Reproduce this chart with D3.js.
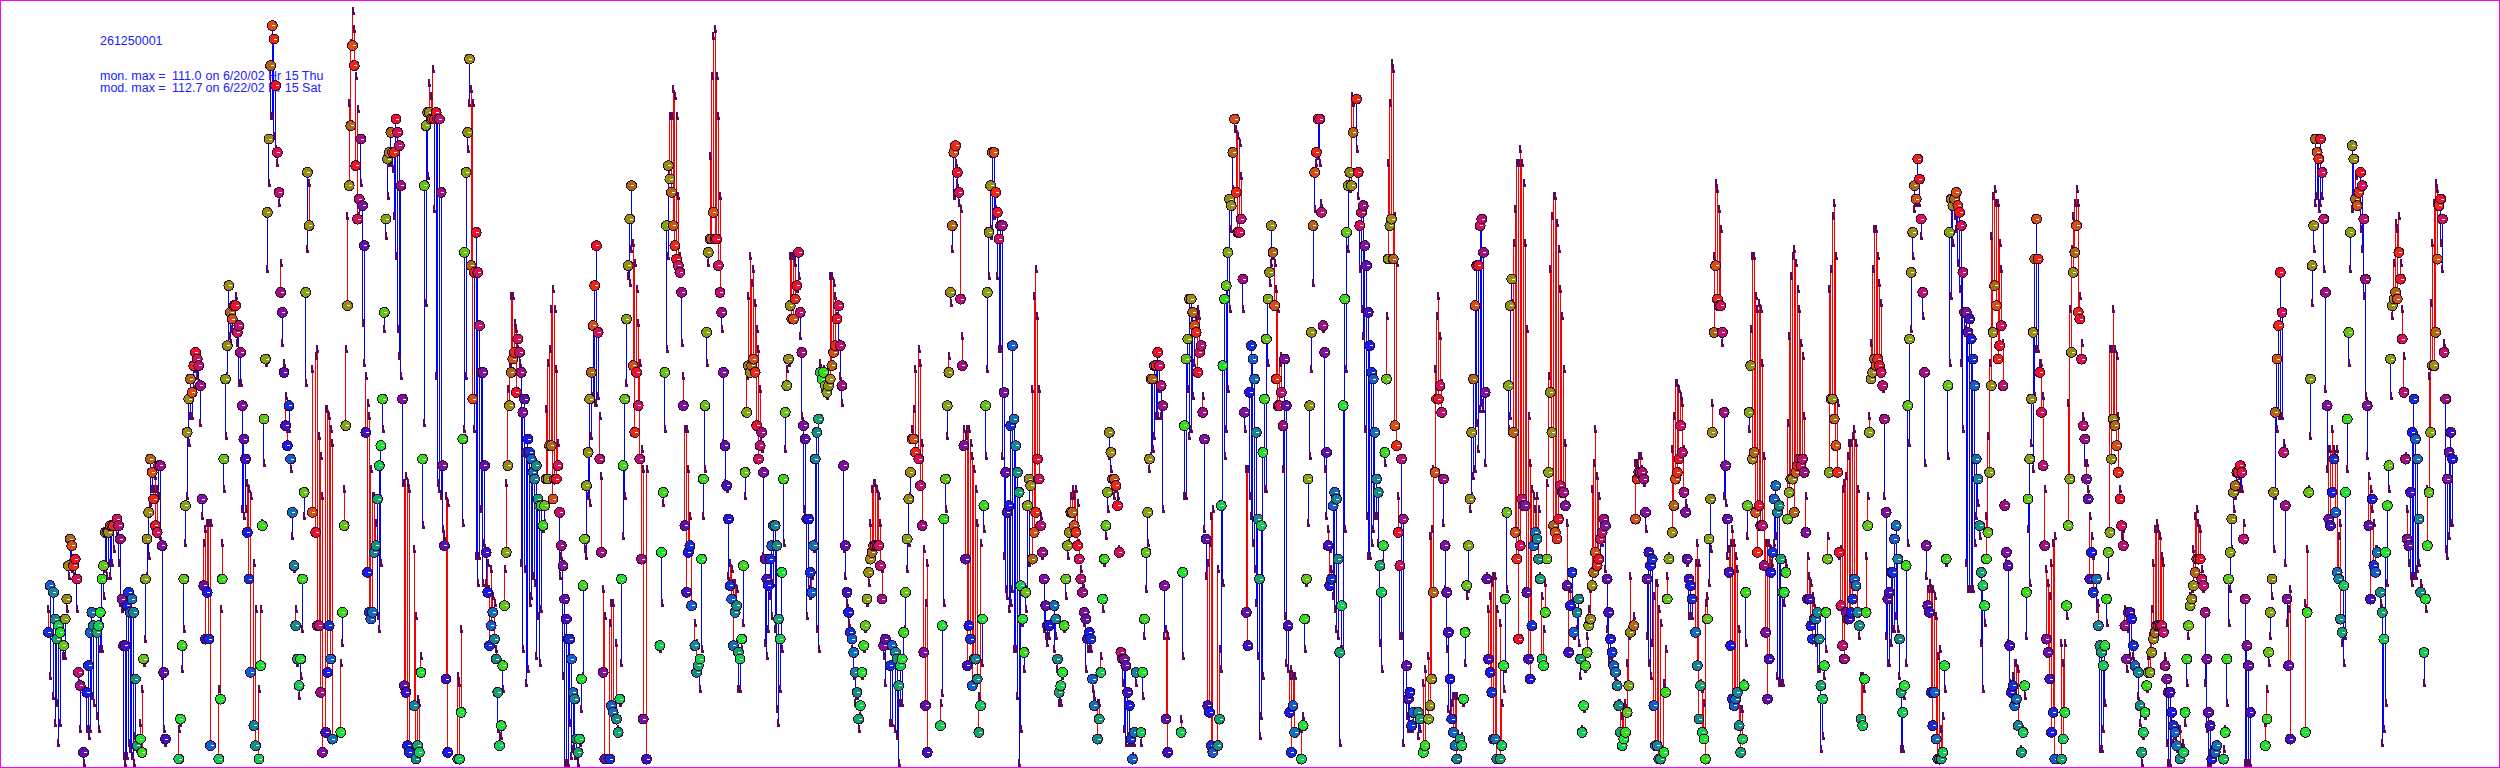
<!DOCTYPE html>
<html><head><meta charset="utf-8">
<style>html,body{margin:0;padding:0;background:#fff;overflow:hidden}svg{display:block}</style>
<script src="https://cdn.jsdelivr.net/npm/d3@7"></script>
</head><body><div id="chart"></div>
<script>
// each reading: [hour index, monitored ppb, modeled ppb]
const stretchA=[[25,20,23],[26,27,13],[28,26,10],[29,22,6],[30,19,9],[31,21,3],[32,20,6],[34,18,16],[35,22,16],[36,25,23],[37,30,28],[38,34,30],[39,33,29],[40,30,28],[41,31,28],[42,28,23],[43,14,12],[44,12,5],[46,2,0],[48,11,5],[49,15,4],[50,20,5],[51,23,10],[52,21,9],[54,20,7],[55,21,5],[56,23,17],[57,28,17],[58,30,25],[59,35,29],[60,35,28],[61,35,30],[62,36,28],[63,36,30],[64,36,32],[66,37,34],[67,36,30],[68,34,24],[69,25,23],[70,18,1],[71,18,0],[72,24,1],[73,26,3],[74,23,2],[75,25,1],[76,23,0],[77,13,4],[78,3,2],[80,4,6],[81,2,11],[82,16,15],[83,28,18.5],[84,34,28],[85,38,31],[86,46,39],[87,44,41],[88,40,41],[89,36,43],[90,35,41],[91,45,40],[92,45,34],[93,33,13],[94,14,5],[95,4,3],[103,1,5],[104,7,6],[105,18,14],[106,28,20],[107,39,33],[108,50,40],[109,55,48],[110,58,52],[111,56,52],[112,60,56],[113,62,59],[114,61,58],[115,60,57],[116,57,51],[117,40,37],[118,27,33],[119,19,35],[120,26,36],[121,19,36],[122,3,36],[127,1,11],[128,10,23],[129,28,33],[130,46,41],[131,58,49],[132,63,58],[133,72,64],[134,68,63],[135,67,65],[136,69,68],[137,69,70],[138,65,63],[139,66,57],[140,62,57],[141,54,38],[142,49,37],[143,46,38],[144,35,42],[145,28,41],[146,14,40],[148,6,30],[149,3,23],[151,1,11],[152,15,23],[153,36,36],[154,52,45],[155,61,60],[156,83,74],[157,94,87],[158,105,97],[159,111,97],[160,109,94],[161,102,92],[162,92,90],[163,86,84],[164,71,75],[165,68,63],[166,59,60],[167,51,55],[168,48,50],[169,54,50],[170,46,44],[171,38,34],[172,30,29],[173,21,23],[174,16,15],[175,12,10],[176,16,13],[177,28,20],[178,41,37],[179,71,57],[180,89,77],[181,81,87]];
const stretchB=[[183,38,59],[185,35,61],[186,21,62],[187,21,49],[188,11,46],[189,2,40],[191,5,53],[192,14,53],[193,21,52],[194,16,50],[195,4,48],[200,5,15],[201,23,18],[202,36,41],[203,51,62],[204,69,82],[205,87,99],[206,96,108],[207,108,112.7],[208,105,110],[209,90,103],[210,82,98],[211,85,82],[212,94,87],[213,84,66],[214,78,60],[215,50,58],[216,29,54],[217,23,52],[218,22,44],[219,23,40],[220,32,40],[221,33,36],[222,40,22],[223,45,20],[224,48,30],[225,55,50],[226,68,65],[227,82,79],[228,91,85],[229,92,90],[230,95,90],[231,92,89],[232,92,82],[233,97,76],[234,95,65],[235,93,61],[236,87,58],[237,55,42],[238,12,42],[239,11,43],[240,3,42],[241,2,41],[244,9,32],[245,1,22],[246,3,9.5],[247,2,9],[248,14,16],[249,46,35.6],[250,87,51],[251,96,69],[252,98,88],[253,98,102],[254,97,100],[255,97,104],[256,97,83],[257,98,58],[258,97,42],[259,97,41],[260,86,40],[261,45,35],[262,33,34],[263,13,40],[264,2,39],[270,1,13],[271,1,12],[272,8,20],[273,49,36],[274,77,50],[275,89,58],[276,95,92],[277,106,99],[278,75,101],[279,55,99],[280,74,50],[281,80,31],[282,74,27],[283,66,31],[284,59,38],[285,59,27],[286,45,33],[287,32,27],[288,26,30],[289,18,26],[290,21,29],[291,23,25],[292,19,24],[293,16,17],[294,11,5],[295,3,4],[296,6,4],[297,15,11],[298,24,29],[299,32,42],[300,45,56],[301,54,60],[302,59,70],[303,61,70],[304,62,66],[305,56,65],[306,64,62],[307,62,60],[308,59,30],[309,53,17],[310,55,29],[311,47,12],[312,49,14],[313,47,24],[314,46,25],[315,44,28],[316,43,27],[317,45,16],[318,40,22],[319,39,15],[320,39,23],[321,36,35],[322,39,36],[323,43,53],[324,43,60],[325,48,62],[326,48,68],[327,40,71],[328,43,68],[329,43,59],[330,45,48],[331,38,28],[332,33,31],[333,30,13],[334,25,0],[335,22,0],[336,19,0],[337,19,6],[338,16,1],[339,11,2],[340,10,1],[341,4,1],[342,2,0],[343,4,3],[344,13,8],[345,27,13],[346,34,32]];
const stretchC=[[347,42,31],[348,47,40],[349,55,39],[350,59,49],[351,66,55],[352,72,54],[353,78,54],[354,65,55],[355,46,52],[356,32,43],[357,14,26],[358,1,22],[361,1,21],[362,9,24],[363,8,24],[365,7,18],[366,5,5],[367,10,9],[368,28,15],[369,45,34],[370,55,40],[371,67,57],[372,75,73],[373,82,72],[374,87,77],[375,60,78],[376,50,75],[377,59,71],[378,54,66],[379,46,60],[380,31,47],[381,7,44],[383,1,44],[391,18,17],[392,32,24],[393,41,39],[394,59,50],[395,81,62],[396,90,76],[397,88,97],[398,86,97],[399,81,101],[400,78,100],[401,76,97],[402,75,85],[403,74,76],[404,71,63],[405,54,58],[406,36,50],[407,26,50],[408,32,44],[409,33,37],[410,24,32],[412,18,21],[413,14,18],[414,15,14],[415,16,11],[416,31,17],[417,43,37],[418,54,44],[419,65,60],[420,77,75],[421,79,91],[422,79,103],[423,83,109],[424,79,110],[425,79,103],[426,75,97],[427,71,85],[428,68,65],[429,59,48],[430,48,42],[431,42,41],[432,37,28],[433,27,30],[434,25,29],[435,18,27],[436,23,27],[437,24,26],[438,17,11],[439,16,11],[440,19,17],[441,30,21],[442,44,40],[443,53,58],[444,60,70],[445,59,76],[446,60,72],[447,61,74],[448,59,69],[449,51,65],[450,46,62],[451,48,56],[452,50,47],[453,44,31],[454,31,18],[455,28,16],[456,27,20],[457,31,25],[458,33,22],[459,36,27],[460,36,20],[461,33,8],[462,22,6],[463,19,11],[464,29,17],[465,43,33],[466,53,47],[467,57,59],[468,61,60],[469,69,76],[470,67,76],[471,67,76],[472,70,75],[473,72,71],[474,77,73],[475,68,64],[476,62,52],[477,51,38],[478,49,37],[479,37,22],[480,37,26],[481,29,25],[482,26,28],[483,33,32],[484,46,33],[485,50,20],[486,52,17],[487,59,60],[488,58,56],[489,59,59],[490,57,56],[491,56,55],[492,57,56],[493,58,73],[494,60,73],[495,62,72],[496,63,70],[497,67,67],[498,69,63],[499,63,58],[500,57,54],[501,45,32],[502,33,28],[503,26,24],[504,23,21],[505,20,20],[506,19,17],[507,17,13],[508,14,9],[509,11,10],[510,7,5],[511,9,7],[512,14,13],[513,18,17],[514,21,20],[515,25,24]];
const stretchD=[[516,29,27],[517,31,36],[518,32,41],[519,33,42],[520,33,42],[521,33,41],[522,33,40],[523,30,36],[524,25,29],[525,18,16],[526,19,12],[529,15,6],[530,18,6],[532,17,5],[533,16,4],[534,12,0],[535,15,9],[536,16,9],[537,20,15],[538,26,20],[539,34,29],[540,40,33],[541,44,40],[542,49,50],[543,49,53],[544,47,59],[546,46,62],[547,42,60],[548,36,48],[549,17,32],[550,9,24],[551,2,30],[559,6,9],[560,21,10.5],[561,37,24],[562,43,38],[563,54,49],[564,59,61],[565,71,69],[566,81,77],[567,92,85],[568,93,90],[569,89,87],[570,86,84],[571,70,83],[572,60,64],[573,48,50],[574,31,49],[575,15,50],[576,21,50],[577,19,48],[578,12,46],[579,16,44],[580,16,41],[581,13,36],[582,5,10],[583,9,33],[584,22,15],[585,39,35],[586,54,46],[587,71,59],[588,80,73],[589,87,79],[590,92,80],[591,92,82],[592,86,83],[593,83,73],[594,79,62],[595,81,62],[596,81,46],[597,56,31],[598,44,26],[599,38,25],[600,39,23],[601,51,24],[602,63,26],[603,52,17],[604,48,17],[605,44,10],[606,41,0],[607,27,5],[608,22,21],[609,17,14],[610,26,23],[611,39,26],[612,43,30],[613,42,42],[614,31,56],[615,35,70],[616,38,74],[617,46,67],[618,43,56],[619,36,37],[620,32,31],[621,28,20],[622,24,19],[623,21,18],[624,21,19],[627,24,17],[628,22,19],[629,16,14],[630,11,9],[631,12,9],[632,14,13],[633,21,20],[634,28,25],[635,33,31],[636,35,33],[637,38,40],[638,38,41],[639,36,40],[640,35,41],[641,33,39],[642,31,33],[643,28,29],[644,26,27],[645,23,21],[646,22,14],[647,19,17],[648,20,17],[649,19,17],[650,13,11],[651,9,10],[653,4,9],[654,7,9],[655,14,16],[656,25,23],[657,31,30],[658,36,34],[659,41,38],[660,50,46],[661,47,44],[662,43,42],[663,43,40],[664,42,41],[665,39,40],[666,32,32],[667,17,16],[668,16,12],[669,16,5],[670,15,3],[671,11,4],[672,9,3],[673,4,3],[674,1,1],[675,5,3],[676,14,12]];
const stretchE=[[679,5,3],[680,14,10],[681,22,19],[682,32,26],[683,38,33],[684,46,44],[685,58,46],[686,58,47],[687,60,49],[688,60,52],[689,62,52],[690,60,56],[691,57,52],[692,54,38],[693,27,19],[694,7,20],[695,2,19],[703,5,6.5],[704,29,16],[705,51,40],[706,61,40],[707,64,56],[708,70,49],[709,70,50],[710,68,55],[711,66,60],[712,65,67],[713,59,68],[714,62,67],[715,63,62],[716,53,55],[717,49,35],[718,34,28],[719,9,30],[720,8,33],[721,3,37],[722,2,38],[725,3,29],[726,7,17],[727,39,14],[728,60,27],[729,70,46],[730,72,50],[731,77,56],[732,85,68],[733,84,80],[734,92,86],[735,97,95],[736,86,95],[737,80,94],[738,80,93],[739,82,88],[740,73,68],[741,53,50],[742,23,44],[743,18,44],[744,56,40],[745,63,37],[746,61,33],[747,58,29],[748,50,24],[749,37,16],[750,28,4],[751,36,7],[752,47,13],[753,55,41],[754,64,41],[755,70,60],[756,74,72],[757,81,75],[758,77,76],[759,69,75],[760,58,71],[761,54,68],[762,54,60],[763,56,61],[764,51,44],[765,61,22],[766,54,15],[767,21,14],[768,8,13],[769,2,14],[770,9,13],[771,5,13],[775,1,5],[776,6,7],[777,22,17],[778,28,27],[779,43,36],[780,54,46],[781,65,59],[782,81,72],[783,89,83],[784,92,90],[785,97,91],[786,97,90],[787,83,84],[788,66,65],[789,62,44],[790,47,37],[791,33,35],[792,27,32],[793,28,29],[794,39,25],[795,41,23],[796,40,20],[797,31,19],[798,17,3],[799,24,17],[800,54,17],[801,70,35],[802,80,59],[803,87,77],[804,89,86],[805,87,100],[806,95,99],[808,100,92],[809,89,85],[810,81,74],[811,83,68],[812,84,64],[813,78,50],[814,75,37],[815,68,31],[816,63,31],[817,59,33],[818,58,35],[819,50,37],[820,43,37],[821,41,33],[822,30,18],[823,26,14],[824,33,30],[825,47,45],[826,58,67],[827,76,90],[828,81,99],[829,82,105],[830,76,104],[831,51,82],[832,48,75],[833,35,40],[834,30,19],[835,46,19],[836,37,3],[838,15,7],[839,10,5],[840,11,5],[841,6,5],[842,8,6]];
const stretchF=[[845,8,4],[846,7,5],[848,2,12],[849,3,14],[851,7,16],[852,9,34],[853,13,35],[854,26,44],[855,44,59],[856,55,67],[857,55,70],[858,57,64],[859,53,57],[860,43,36],[861,33,26],[862,26,17],[863,20,8],[864,13,7],[865,7,9],[866,5,10],[867,3,10],[868,1,10],[870,4,3],[871,3,4],[872,10,9],[873,20,15],[874,27,25],[875,33,26],[876,40,38],[877,50,40],[878,58,43],[879,69,44],[880,75,51],[881,75,47],[882,81,53],[883,82,54],[884,77,53],[885,56,45],[886,28,28],[887,16,23],[888,14,25],[889,11,27],[890,4,28],[891,4,28],[892,1,23],[894,1,21],[895,3,9],[896,15,11],[897,25,14],[898,38,26],[899,57,50],[900,69,52],[901,73,69],[902,50,78],[903,35,83],[904,31,90],[905,19,90],[906,33,92],[907,40,90],[908,39,87],[909,39,78],[910,26,65],[911,16,52],[912,13,45],[913,21,41],[914,33,40],[915,35,38],[916,34,40],[917,31,38],[918,28,28],[919,16,25],[920,15,20],[921,23,27],[922,31,42],[923,44,58],[924,56,74],[925,50,82],[926,36,85],[927,35,85],[928,34,81],[929,37,77],[930,42,71],[931,41,67],[932,41,59],[933,39,48],[934,27,36],[935,17,26],[936,24,26],[937,29,24],[938,20,19],[940,23,20],[941,25,18],[942,16,13],[943,5,5],[944,9,8],[945,15,14],[946,17,19],[947,21,23],[948,22,26],[949,27,41],[950,29,45],[951,32,50],[952,30,43],[953,31,40],[954,34,30],[955,35,33],[956,37,34],[957,36,29],[958,28,20],[959,23,15],[960,19,16],[961,17,15],[962,15,14],[963,14,13],[964,12,12],[965,9,9],[966,5,9],[967,3,7],[968,4,8],[969,5,9],[970,8,15],[971,12,19],[972,20,28],[974,21,22],[975,37,45],[976,43,45],[977,44,46],[978,44,46],[979,44,44],[980,43,42],[981,38,35],[982,28,19],[983,32,15],[984,30,13],[985,31,18],[986,9,25],[987,3,27],[988,3,27],[989,1,23],[990,1,21],[992,2,12],[993,11,17],[994,25,28],[995,31,31],[997,35,47],[998,39,52],[999,43,57],[1000,44,57],[1001,46,56],[1002,51,55],[1003,47,54],[1004,41,47],[1005,38,39],[1006,31,30],[1007,28,22],[1008,27,22],[1009,25,22]];
const stretchG=[[1011,20,30],[1012,15,33],[1013,7,30],[1014,12,12],[1015,5,11],[1016,4,9],[1017,1,24],[1018,22,25],[1019,34,27],[1020,40,32],[1021,50,54],[1022,65,76],[1023,75,87],[1024,70,86],[1025,69,83],[1026,69,80],[1027,65,63],[1028,53,40],[1029,45,39],[1030,37,31],[1031,29,32],[1032,18,33],[1033,10,35],[1034,9,33],[1035,10,31],[1036,11,29],[1037,6,20],[1038,2,8],[1039,4,8],[1040,12,12],[1041,26,18],[1042,39,34],[1043,53,50],[1044,60,65],[1045,46,76],[1046,47,76],[1047,38,70],[1048,32,68],[1049,39,69],[1050,36,68],[1051,36,60],[1052,30,46],[1053,20,33],[1054,10,33],[1055,16,33],[1056,29,32],[1057,32,30],[1058,40,33],[1059,42,34],[1060,38,13],[1061,39,12],[1062,31,12],[1063,26,12],[1064,26,24],[1065,29,30],[1066,37,51],[1067,41,64],[1068,43,73],[1069,43,76],[1070,38,77],[1071,44,75],[1072,45,71],[1073,46,68],[1074,45,63],[1075,46,61],[1076,44,52],[1077,35,40],[1078,25,31],[1079,25,28],[1080,21,27],[1081,19,25],[1082,22,24],[1083,22,18],[1084,23,14],[1085,19,14],[1086,12,2],[1087,10,4],[1088,15,13],[1089,23,17],[1090,31,34],[1091,44,71],[1092,55,74],[1093,55,82],[1094,52,84],[1095,48,76],[1096,44,54],[1097,32,31],[1098,24,32],[1099,18,41],[1100,16,42],[1101,23,43],[1102,22,46],[1103,22,48],[1104,23,48],[1105,25,49],[1106,28,50],[1107,27,48],[1108,23,41],[1109,21,19],[1110,7,13],[1111,6,13],[1112,13,11],[1113,23,31],[1114,36,40],[1115,50,52],[1116,58,63],[1117,59,74],[1118,61,80],[1119,60,80],[1120,61,76],[1121,60,72],[1122,59,69],[1123,57,56],[1124,52,40],[1125,38,19],[1126,25,15],[1127,26,15],[1128,29,18],[1129,29,20],[1130,34,20],[1131,36,22],[1132,31,20],[1133,19,13],[1134,11,2],[1135,8,2],[1136,12,10],[1137,30,15],[1138,54,33],[1139,64,48],[1140,74,65],[1141,80,76],[1142,87,83],[1143,85,84],[1144,91,87],[1145,88,84],[1146,82,79],[1147,71,67],[1148,59,45],[1149,33,28],[1150,24,26],[1151,23,27],[1152,11,26],[1153,6,26],[1154,11,25],[1155,4,22],[1156,1,16],[1157,1,17],[1158,1,5],[1159,2,7],[1160,15,11],[1161,31,30],[1162,57,46],[1163,80,60],[1164,85,70],[1165,84,78],[1166,85,82],[1167,86,80],[1168,84,75],[1169,83,71],[1170,81,60],[1171,74,50],[1172,68,65]];
const stretchH=[[1173,68,30],[1174,65,26],[1175,67,26],[1176,64,26],[1177,61,26],[1178,57,33],[1179,46,37],[1180,43,39],[1181,36,34],[1182,29,18],[1183,27,11],[1184,24,21],[1185,31,37],[1186,35,49],[1187,44,60],[1188,57,79],[1189,65,85],[1190,72,86],[1191,69,84],[1192,61,84],[1193,63,78],[1194,66,74],[1195,57,63],[1196,39,39],[1197,32,30],[1198,30,18],[1199,18,12],[1200,11,11],[1201,12,13],[1202,9,15],[1203,10,15],[1204,6,14],[1206,2,2],[1207,5,5],[1208,12,10],[1209,26,19],[1210,40,35],[1211,46,27],[1212,55,48],[1213,65,44],[1214,76,55],[1215,82,62],[1216,76,62],[1217,59,60],[1218,53,60],[1219,45,55],[1220,33,41],[1221,19,29],[1222,17,27],[1223,13,25],[1224,5,30],[1225,8,33],[1226,1,34],[1230,1,18],[1231,4,15],[1232,8,18],[1233,24,22],[1234,36,54],[1235,43,68],[1236,62,77],[1237,74,82],[1238,77,84],[1239,81,86],[1240,68,84],[1241,67,70],[1242,61,63],[1243,51,52],[1244,49,45],[1245,43,45],[1246,40,41],[1247,28,37],[1248,32,34],[1249,26,31],[1251,28,23],[1252,21,24],[1253,18,2],[1254,17,2],[1255,15,5],[1256,18,9],[1257,25,21],[1258,32,28],[1259,35,62],[1260,46,62],[1261,52,68],[1262,51,62],[1263,48,61],[1264,44,52],[1265,40,41],[1266,36,34],[1267,33,35],[1268,21,23],[1269,16,14],[1270,23,20],[1271,23,16],[1272,22,18],[1273,18,16],[1274,15,14],[1276,14,10],[1277,9,6],[1278,2,0],[1279,5,4],[1280,8,7],[1281,12,11],[1282,14,16],[1283,14,19],[1284,17,23],[1285,19,30],[1286,20,35],[1287,21,36],[1288,21,35],[1289,21,34],[1290,21,31],[1291,20,30],[1292,15,16],[1293,13,3],[1294,11,0],[1295,11,0],[1296,8,3],[1297,6,3],[1298,5,4],[1299,3,2],[1301,1,5],[1303,2,3],[1304,8,6],[1305,16,12],[1306,21,19],[1307,24,25],[1308,25,26],[1309,27,32],[1310,29,37],[1311,31,38],[1312,31,36],[1313,31,35],[1314,28,29],[1315,27,26],[1316,23,12],[1317,16,5],[1318,8,0],[1319,6,0],[1320,1,1],[1321,2,1],[1322,2,2],[1323,3,2],[1327,1,2],[1328,5,5],[1329,16,9],[1330,28,21],[1331,32,26],[1332,37,32],[1333,41,38],[1334,42,40],[1335,44,42]];
const stretchI=[[1336,44,43],[1337,45,41],[1338,44,41],[1339,34,36],[1340,25,0],[1341,18,0],[1342,15,0],[1343,8,0],[1352,3,6],[1353,7,11],[1354,17,15],[1355,23,19],[1356,28,25],[1357,41,32],[1358,53,40],[1359,61,50],[1360,66,52],[1361,74,52],[1362,68,52],[1363,47,48],[1364,39,30],[1365,25,21],[1366,15,23],[1367,4,26],[1376,5,24],[1377,23,32],[1378,41,41],[1379,58,49],[1380,75,69],[1381,81,77],[1382,94,84],[1383,92,85],[1384,91,83],[1385,94,84],[1386,89,85],[1387,82,74],[1388,71,56],[1389,54,44],[1390,37,47],[1391,36,47],[1392,41,50],[1393,46,47],[1394,38,46],[1395,29,47],[1396,28,34],[1397,22,36],[1398,20,18],[1399,27,15],[1400,41,19],[1401,52,44],[1402,65,60],[1403,80,74],[1404,93,83],[1405,91,84],[1406,85,88],[1407,84,84],[1408,86,85],[1409,89,80],[1410,87,77],[1411,82,70],[1412,73,55],[1413,54,46],[1414,36,43],[1415,25,41],[1416,40,38],[1417,30,36],[1418,29,32],[1419,32,32],[1421,26,24],[1422,23,3],[1423,19,5],[1424,32,9],[1425,39,27],[1426,45,41],[1427,61,55],[1428,69,67],[1429,70,75],[1430,71,81],[1431,70,80],[1432,77,82],[1433,73,75],[1434,64,68],[1435,56,61],[1436,46,46],[1437,34,38],[1438,33,30],[1439,41,28],[1440,50,27],[1441,55,28],[1442,49,28],[1443,46,29],[1444,37,30],[1445,26,27],[1447,17,12],[1448,25,23],[1449,33,41],[1450,41,58],[1451,50,69],[1452,60,78],[1453,60,84],[1454,65,87],[1455,76,86],[1456,84,84],[1457,85,78],[1458,82,74],[1459,62,63],[1460,55,32],[1461,43,31],[1462,47,34],[1463,50,36],[1464,46,36]];

const hourColors=["#1818f0","#1030e0","#1060d0","#1070b8","#108898","#109080","#10a868","#10d050","#18e828","#30e010","#60c810","#80a810","#909010","#989010","#b06810","#d85010","#f02810","#f01028","#d81058","#c01070","#a01080","#8010a0","#6010b0","#4010c8"];
const siteLabel="261250001";
const summaryRows=[["mon. max =","111.0","on 6/20/02 Hr 15 Thu"],["mod. max =","112.7","on 6/22/02 Hr 15 Sat"]];

const readings=d3.merge([stretchA,stretchB,stretchC,stretchD,stretchE,stretchF,stretchG,stretchH,stretchI]);
const W=2500,H=768;
const x=d3.scaleLinear().domain([0,1464]).range([6.7,2452.4]);
const y=d3.scaleLinear().domain([0,111]).range([765.7,25.7]);
const colour=h=>hourColors[h%24];

const svg=d3.select("#chart").append("svg").attr("width",W).attr("height",H);
svg.append("rect").attr("width",W).attr("height",H).attr("fill","#fff");

const txt=svg.append("g").attr("fill","#2020ff").attr("font-family","'Liberation Sans',Arial,sans-serif").attr("font-size",12.5);
txt.append("text").attr("x",100).attr("y",45).text(siteLabel);
summaryRows.forEach((r,i)=>{
  const yy=80+i*12;
  txt.append("text").attr("x",100).attr("y",yy).text(r[0]);
  txt.append("text").attr("x",172).attr("y",yy).text(r[1]);
  txt.append("text").attr("x",205.5).attr("y",yy).text(r[2]);
});

svg.append("g").attr("shape-rendering","crispEdges").selectAll("line").data(readings).join("line")
  .attr("x1",d=>x(d[0])).attr("x2",d=>x(d[0])).attr("y1",d=>y(d[1])).attr("y2",d=>y(d[2]))
  .attr("stroke",d=>d[2]>d[1]?"#ff0000":"#0000ff").attr("stroke-width",1);

svg.append("g").attr("shape-rendering","crispEdges").attr("fill","#5a0a5a").selectAll("path").data(readings).join("path")
  .attr("d",d=>{const a=Math.round(x(d[0])),b=Math.round(y(d[2]));return `M${a-1},${b-2}h3v3h-3zM${a-1},${b-7}h2v6h-2z`;});

const dots=svg.append("g").selectAll("g").data(readings).join("g")
  .attr("transform",d=>`translate(${x(d[0])},${y(d[1])})`);
dots.append("circle").attr("r",5).attr("fill",d=>colour(d[0])).attr("stroke","#300830").attr("stroke-width",1).attr("shape-rendering","crispEdges");
dots.append("path").attr("d","M0,0h3").attr("stroke","#fff").attr("stroke-width",1).attr("fill","none").attr("shape-rendering","crispEdges");

svg.append("rect").attr("x",.5).attr("y",.5).attr("width",W-1).attr("height",H-1).attr("fill","none").attr("stroke","#ff00ff").attr("stroke-width",1);
</script></body></html>
